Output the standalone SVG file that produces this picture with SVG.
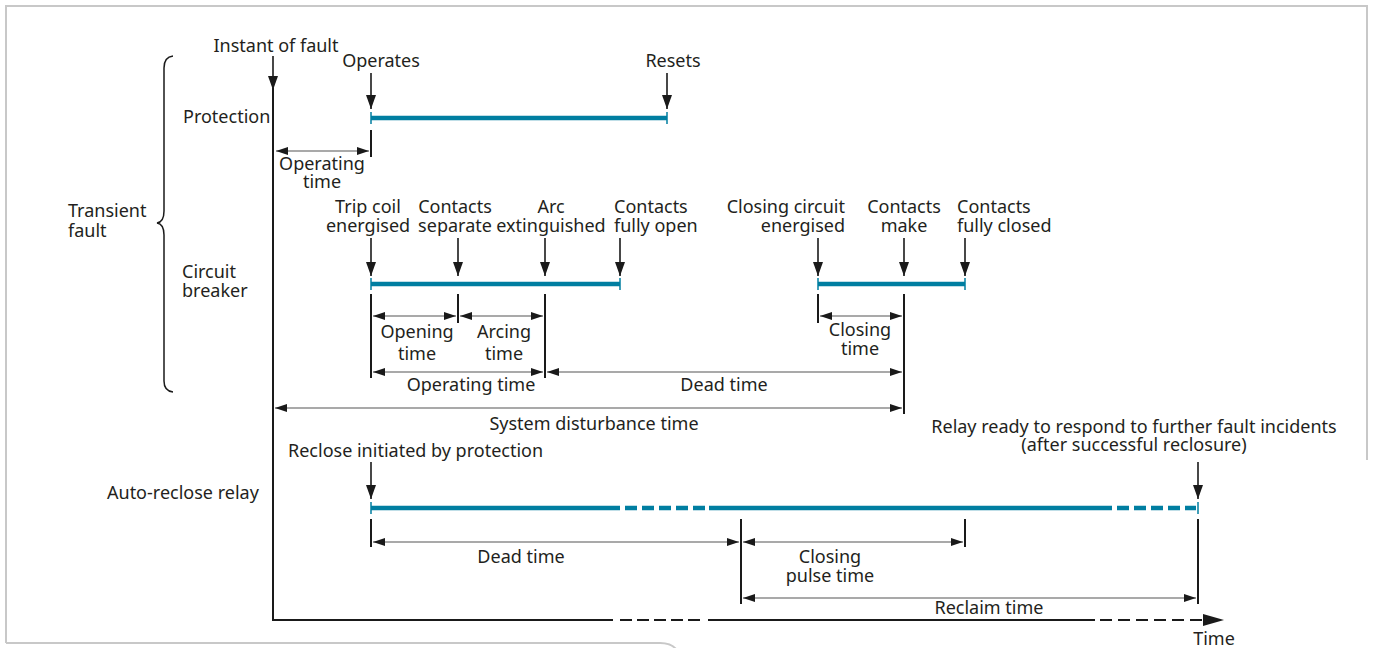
<svg xmlns="http://www.w3.org/2000/svg" width="1373" height="648" viewBox="0 0 1373 648">
<style>
.t{font-family:"Noto Sans","Liberation Sans",sans-serif;font-size:18px;fill:#231f20}
.m{text-anchor:middle}
.e{text-anchor:end}
.bar{stroke:#007ea1;stroke-width:4.5;fill:none}
.btk{stroke:#007ea1;stroke-width:1.5}
.tk{stroke:#1a1a1a;stroke-width:2}
.dim{stroke:#555;stroke-width:1.2;fill:none;marker-start:url(#ah);marker-end:url(#ah)}
.dn{stroke:#1a1a1a;stroke-width:1.6;marker-end:url(#dh)}
.ax{stroke:#1a1a1a;stroke-width:2;fill:none}
</style>
<defs>
<marker id="ah" markerUnits="userSpaceOnUse" markerWidth="12" markerHeight="8" refX="12" refY="4" orient="auto-start-reverse"><path d="M0,0 L12,4 L0,8 z" fill="#1a1a1a"/></marker>
<marker id="dh" markerUnits="userSpaceOnUse" markerWidth="14" markerHeight="10" refX="14" refY="5" orient="auto"><path d="M0,0 L14,5 L0,10 z" fill="#1a1a1a"/></marker>
</defs>
<rect width="1373" height="648" fill="#fff"/>
<path d="M6,643 H660 Q671,643 676,649 M6,643 V6 H1367 V460" fill="none" stroke="#c8c8c8" stroke-width="2"/>

<g id="axis">
<line class="dn" x1="273" y1="56" x2="273" y2="90"/>
<path class="ax" d="M273,88 V620 H613"/>
<line class="ax" x1="620" y1="620" x2="703" y2="620" stroke-dasharray="12 5"/>
<line class="ax" x1="708" y1="620" x2="1095" y2="620"/>
<line class="ax" x1="1100" y1="620" x2="1203" y2="620" stroke-dasharray="12 6"/>
<path d="M1203,614 L1224,620 L1203,626 z" fill="#1a1a1a"/>
<text class="t m" x="276" y="52">Instant of fault</text>
<text class="t m" x="1214" y="645">Time</text>
</g>

<g id="labels">
<text class="t" x="68" y="217">Transient<tspan x="68" dy="20">fault</tspan></text>
<path d="M173,56 Q164,57 164,68 V211 Q164,222 157,223 Q164,224 164,235 V381 Q164,391 173,392" fill="none" stroke="#1a1a1a" stroke-width="1.5"/>
<text class="t" x="183" y="123">Protection</text>
<text class="t" x="182" y="278">Circuit<tspan x="182" dy="19">breaker</tspan></text>
<text class="t" x="107" y="499">Auto-reclose relay</text>
</g>

<g id="protection">
<text class="t m" x="381" y="67">Operates</text>
<line class="dn" x1="371" y1="73" x2="371" y2="109"/>
<text class="t m" x="673" y="67">Resets</text>
<line class="dn" x1="667" y1="73" x2="667" y2="109"/>
<line class="bar" x1="371" y1="118" x2="667" y2="118"/>
<line class="btk" x1="371" y1="112" x2="371" y2="124"/>
<line class="btk" x1="667" y1="112" x2="667" y2="124"/>
</g>

<g id="circuit-breaker">
<text class="t m" x="368" y="213">Trip coil<tspan x="368" dy="19">energised</tspan></text>
<text class="t m" x="455" y="213">Contacts<tspan x="455" dy="19">separate</tspan></text>
<text class="t m" x="551" y="213">Arc<tspan x="551" dy="19">extinguished</tspan></text>
<text class="t" x="614" y="213">Contacts<tspan x="614" dy="19">fully open</tspan></text>
<text class="t e" x="845" y="213">Closing circuit<tspan x="845" dy="19">energised</tspan></text>
<text class="t m" x="904" y="213">Contacts<tspan x="904" dy="19">make</tspan></text>
<text class="t" x="957" y="213">Contacts<tspan x="957" dy="19">fully closed</tspan></text>
<line class="dn" x1="371" y1="238" x2="371" y2="276"/>
<line class="dn" x1="458" y1="238" x2="458" y2="276"/>
<line class="dn" x1="545" y1="238" x2="545" y2="276"/>
<line class="dn" x1="620" y1="238" x2="620" y2="276"/>
<line class="dn" x1="818" y1="238" x2="818" y2="276"/>
<line class="dn" x1="904" y1="238" x2="904" y2="276"/>
<line class="dn" x1="965" y1="238" x2="965" y2="276"/>
<line class="bar" x1="371" y1="284" x2="620" y2="284"/>
<line class="bar" x1="818" y1="284" x2="965" y2="284"/>
<line class="btk" x1="371" y1="278" x2="371" y2="290"/>
<line class="btk" x1="620" y1="278" x2="620" y2="290"/>
<line class="btk" x1="818" y1="278" x2="818" y2="290"/>
<line class="btk" x1="965" y1="278" x2="965" y2="290"/>
</g>

<g id="auto-reclose">
<text class="t" x="288" y="457">Reclose initiated by protection</text>
<line class="dn" x1="371" y1="462" x2="371" y2="499"/>
<text class="t m" x="1134" y="433">Relay ready to respond to further fault incidents<tspan x="1134" dy="18">(after successful reclosure)</tspan></text>
<line class="dn" x1="1198" y1="462" x2="1198" y2="499"/>
<line class="bar" x1="371" y1="508" x2="620" y2="508"/>
<line class="bar" x1="625" y1="508" x2="706" y2="508" stroke-dasharray="12 5"/>
<line class="bar" x1="709" y1="508" x2="1112" y2="508"/>
<line class="bar" x1="1117" y1="508" x2="1196" y2="508" stroke-dasharray="12 5"/>
<line class="btk" x1="371" y1="502" x2="371" y2="514"/>
<line class="btk" x1="1198" y1="502" x2="1198" y2="514"/>
</g>

<g id="connectors">
<line class="tk" x1="371" y1="130" x2="371" y2="157"/>
<line class="dim" x1="276" y1="151" x2="369" y2="151"/>
<text class="t m" x="322" y="170">Operating<tspan x="322" dy="18">time</tspan></text>

<line class="tk" x1="371" y1="294" x2="371" y2="378"/>
<line class="tk" x1="458" y1="294" x2="458" y2="323"/>
<line class="tk" x1="545" y1="294" x2="545" y2="378"/>
<line class="tk" x1="818" y1="294" x2="818" y2="323"/>
<line class="tk" x1="904" y1="294" x2="904" y2="414"/>
<line class="dim" x1="373" y1="316" x2="456" y2="316"/>
<line class="dim" x1="460" y1="316" x2="543" y2="316"/>
<line class="dim" x1="820" y1="316" x2="902" y2="316"/>
<line class="dim" x1="373" y1="372" x2="543" y2="372"/>
<line class="dim" x1="547" y1="372" x2="902" y2="372"/>
<line class="dim" x1="275" y1="408" x2="902" y2="408"/>
<text class="t m" x="417" y="338">Opening<tspan x="417" dy="22">time</tspan></text>
<text class="t m" x="504" y="338">Arcing<tspan x="504" dy="22">time</tspan></text>
<text class="t m" x="860" y="336">Closing<tspan x="860" dy="19">time</tspan></text>
<text class="t m" x="471" y="391">Operating time</text>
<text class="t m" x="724" y="391">Dead time</text>
<text class="t m" x="594" y="430">System disturbance time</text>

<line class="tk" x1="371" y1="519" x2="371" y2="547"/>
<line class="tk" x1="741" y1="519" x2="741" y2="604"/>
<line class="tk" x1="965" y1="519" x2="965" y2="547"/>
<line class="tk" x1="1198" y1="519" x2="1198" y2="604"/>
<line class="dim" x1="373" y1="542" x2="739" y2="542"/>
<line class="dim" x1="743" y1="542" x2="963" y2="542"/>
<line class="dim" x1="743" y1="598" x2="1196" y2="598"/>
<text class="t m" x="521" y="563">Dead time</text>
<text class="t m" x="830" y="563">Closing<tspan x="830" dy="19">pulse time</tspan></text>
<text class="t m" x="989" y="614">Reclaim time</text>
</g>
</svg>
